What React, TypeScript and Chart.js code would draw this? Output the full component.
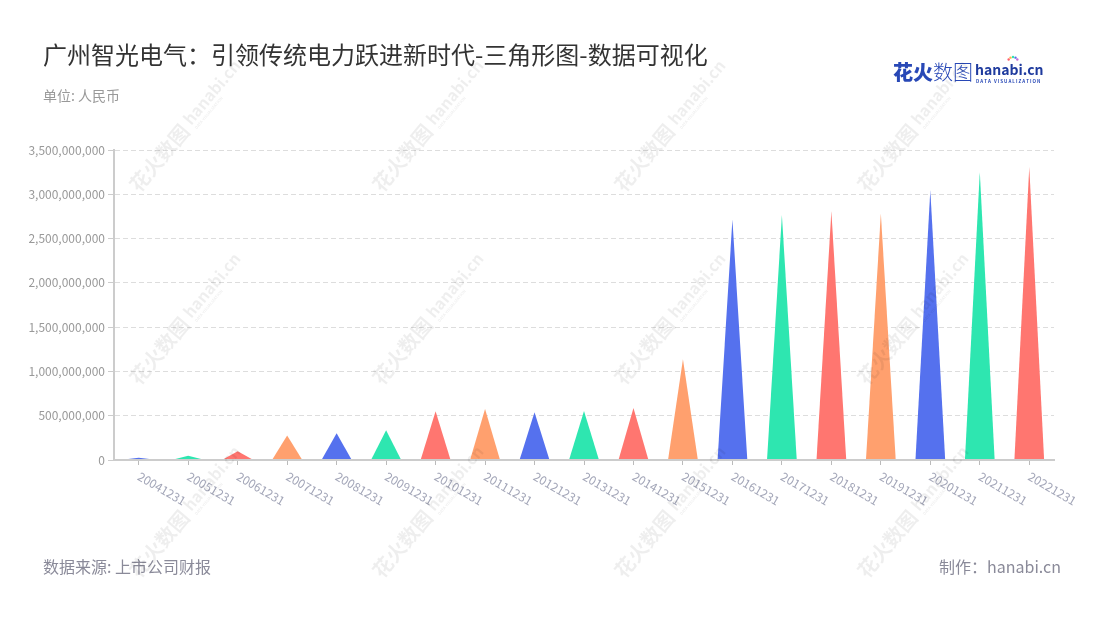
import React, { useEffect, useRef } from "react";
import { Chart, registerables } from "chart.js";

Chart.register(...registerables);

const FONT = '"Noto Sans CJK SC", "Noto Sans", sans-serif';

const categories = [
  "20041231", "20051231", "20061231", "20071231", "20081231", "20091231", "20101231",
  "20111231", "20121231", "20131231", "20141231", "20151231", "20161231", "20171231",
  "20181231", "20191231", "20201231", "20211231", "20221231",
];

const values = [
  25000000, 47000000, 100000000, 277000000, 303000000, 337000000, 550000000,
  577000000, 538000000, 554000000, 588000000, 1138000000, 2715000000, 2767000000,
  2809000000, 2783000000, 3045000000, 3252000000, 3309000000,
];

const palette = ["#5571ee", "#2ee6b0", "#ff7670", "#ffa06e"];

const yMax = 3500000000;
const yStep = 500000000;

const title = "广州智光电气：引领传统电力跃进新时代-三角形图-数据可视化";
const subtitle = "单位: 人民币";
const source = "数据来源: 上市公司财报";
const credit = "制作：hanabi.cn";

const trianglePlugin = {
  id: "triangles",
  afterDatasetsDraw(chart: any) {
    const ctx = chart.ctx;
    const meta = chart.getDatasetMeta(0);
    ctx.save();
    meta.data.forEach((el: any, i: number) => {
      const { x, y, base, width } = el.getProps(["x", "y", "base", "width"], true);
      ctx.beginPath();
      ctx.moveTo(x - width / 2, base);
      ctx.lineTo(x, y);
      ctx.lineTo(x + width / 2, base);
      ctx.closePath();
      ctx.fillStyle = palette[i % palette.length];
      ctx.fill();
    });
    const area = chart.chartArea;
    ctx.beginPath();
    ctx.strokeStyle = "#cccccc";
    ctx.lineWidth = 2;
    ctx.moveTo(area.left - 1, area.bottom);
    ctx.lineTo(area.right, area.bottom);
    ctx.stroke();
    ctx.restore();
  },
};

const labelPlugin = {
  id: "xlabels",
  afterDraw(chart: any) {
    const ctx = chart.ctx;
    const xs = chart.scales.x;
    const bottom = chart.chartArea.bottom;
    ctx.save();
    ctx.font = `12px ${FONT}`;
    ctx.fillStyle = "#a3a6b8";
    ctx.textAlign = "left";
    ctx.textBaseline = "top";
    categories.forEach((c, i) => {
      const x = xs.getPixelForValue(i);
      ctx.save();
      ctx.translate(x + 3, bottom + 10);
      ctx.rotate(Math.PI / 6);
      ctx.fillText(c, 0, 0);
      ctx.restore();
    });
    ctx.restore();
  },
};

function drawWatermark(ctx: CanvasRenderingContext2D, cx: number, cy: number) {
  ctx.save();
  ctx.translate(cx, cy);
  ctx.rotate(-50 * Math.PI / 180);
  ctx.fillStyle = "rgba(0,0,0,0.065)";
  ctx.textBaseline = "middle";
  ctx.textAlign = "left";
  ctx.font = `bold 20px ${FONT}`;
  const w1 = ctx.measureText("花火数图").width;
  ctx.font = `bold 16px ${FONT}`;
  const w2 = ctx.measureText("hanabi.cn").width;
  const total = w1 + 5 + w2;
  let x = -total / 2;
  ctx.font = `bold 20px ${FONT}`;
  ctx.fillText("花火数图", x, 0);
  x += w1 + 5;
  ctx.font = `bold 16px ${FONT}`;
  ctx.fillText("hanabi.cn", x, -2);
  ctx.font = `bold 4px ${FONT}`;
  ctx.fillText("DATA VISUALIZATION", x + 1, 9);
  ctx.restore();
}

const textPlugin = {
  id: "texts",
  afterDraw(chart: any) {
    const ctx: CanvasRenderingContext2D = chart.ctx;
    ctx.save();
    ctx.textBaseline = "middle";
    ctx.textAlign = "left";
    ctx.fillStyle = "#333333";
    ctx.font = `24px ${FONT}`;
    ctx.fillText(title, 43, 55);
    ctx.fillStyle = "#999999";
    ctx.font = `14px ${FONT}`;
    ctx.fillText(subtitle, 43, 96);
    ctx.fillStyle = "#8a8a99";
    ctx.font = `16px ${FONT}`;
    ctx.fillText(source, 43, 567);
    ctx.textAlign = "right";
    ctx.fillText(credit, 1061, 567);

    // logo
    ctx.textAlign = "left";
    ctx.fillStyle = "#2848b6";
    ctx.font = `900 20px ${FONT}`;
    ctx.fillText("花火", 893, 72);
    const wh = ctx.measureText("花火").width;
    ctx.font = `300 20px ${FONT}`;
    ctx.fillText("数图", 893 + wh, 72);
    ctx.fillStyle = "#1f3b9e";
    ctx.font = `bold 14px ${FONT}`;
    ctx.fillText("hanabi.cn", 975, 70);
    ctx.font = `bold 4.5px ${FONT}`;
    ctx.fillStyle = "#2848b6";
    ctx.fillText("D A T A   V I S U A L I Z A T I O N", 976, 81);
    const sparks = ["#ff5f6d", "#ffb347", "#2ee6b0", "#5571ee", "#c86dd7"];
    sparks.forEach((c, i) => {
      const a = (-150 + i * 30) * Math.PI / 180;
      ctx.fillStyle = c;
      ctx.beginPath();
      ctx.arc(1013 + Math.cos(a) * 5, 62 + Math.sin(a) * 5, 1.2, 0, Math.PI * 2);
      ctx.fill();
    });

    // watermarks
    const cols = [186, 429, 671, 914];
    const rows = [126, 319, 512];
    rows.forEach((cy) => cols.forEach((cx) => drawWatermark(ctx, cx, cy)));
    ctx.restore();
  },
};

export default function App() {
  const ref = useRef<HTMLCanvasElement | null>(null);

  useEffect(() => {
    if (!ref.current) return;
    const chart = new Chart(ref.current, {
      type: "bar",
      data: {
        labels: categories,
        datasets: [
          {
            data: values,
            backgroundColor: "rgba(0,0,0,0)",
            borderWidth: 0,
            barPercentage: 0.6,
            categoryPercentage: 1,
          },
        ],
      },
      options: {
        responsive: false,
        animation: false,
        devicePixelRatio: 1,
        layout: { padding: { left: 0, top: 150, right: 46, bottom: 0 } },
        plugins: {
          legend: { display: false },
          tooltip: { enabled: false },
        },
        scales: {
          x: {
            offset: true,
            grid: {
              display: true,
              offset: false,
              drawOnChartArea: false,
              drawTicks: true,
              tickLength: 5,
              tickColor: "#bbbbbb",
              tickWidth: 1,
            },
            border: { display: true, color: "#cccccc", width: 2 },
            ticks: { display: false },
            afterFit: (s: any) => {
              s.height = 160;
            },
          },
          y: {
            min: 0,
            max: yMax,
            ticks: {
              stepSize: yStep,
              color: "#999999",
              padding: 3,
              font: { family: FONT, size: 12 },
              callback: (v: any) => Number(v).toLocaleString("en-US"),
            },
            grid: {
              color: "#dddddd",
              drawTicks: true,
              tickLength: 6,
              tickColor: "#cccccc",
              tickBorderDash: [],
            },
            border: { display: true, color: "#cccccc", width: 2, dash: [5, 3] },
            afterFit: (s: any) => {
              s.width = 114;
            },
          },
        },
      },
      plugins: [trianglePlugin, labelPlugin, textPlugin],
    } as any);
    return () => chart.destroy();
  }, []);

  return (
    <div style={{ position: "absolute", left: 0, top: 0, width: 1100, height: 620, background: "#fff" }}>
      <canvas ref={ref} width={1100} height={620} style={{ width: 1100, height: 620, display: "block" }} />
    </div>
  );
}
